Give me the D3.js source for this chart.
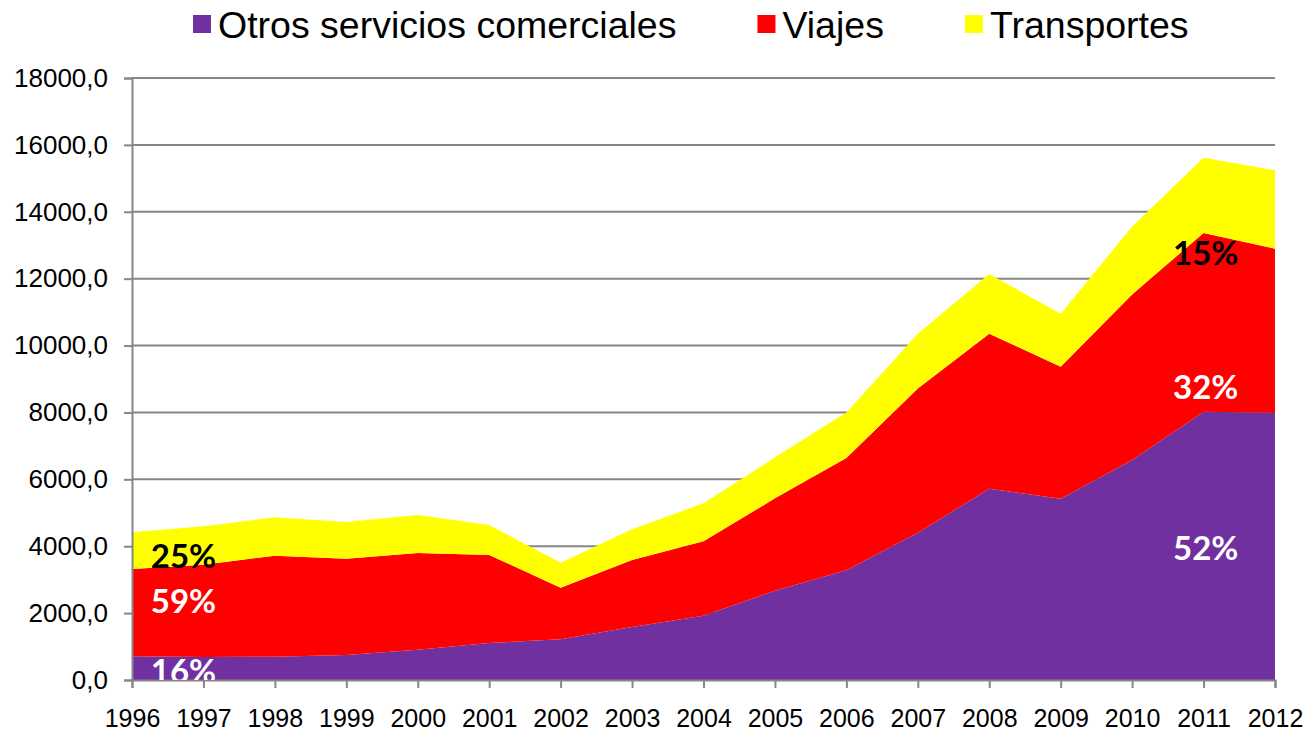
<!DOCTYPE html>
<html>
<head>
<meta charset="utf-8">
<script src="https://cdn.jsdelivr.net/npm/d3@7"></script>
<style>
  html, body { margin: 0; padding: 0; background: #fff; }
  svg { display: block; }
</style>
</head>
<body>
<svg id="chart" width="1308" height="734"></svg>
<script>
// ---------------------------------------------------------------------------
// Data
// ---------------------------------------------------------------------------
const years = [1996, 1997, 1998, 1999, 2000, 2001, 2002, 2003, 2004, 2005, 2006, 2007, 2008, 2009, 2010, 2011, 2012];

const otros       = [708, 690, 698, 747, 907, 1106, 1220, 1585, 1923, 2670, 3279, 4400, 5722, 5422, 6578, 8021, 7989];
const viajes      = [2610, 2758, 3019, 2880, 2890, 2631, 1540, 2002, 2223, 2761, 3358, 4317, 4631, 3947, 4951, 5348, 4909];
const transportes = [1097, 1146, 1147, 1096, 1136, 897, 748, 918, 1136, 1226, 1365, 1636, 1786, 1583, 2032, 2246, 2343];

const seriesNames  = ['Otros servicios comerciales', 'Viajes', 'Transportes'];
const seriesKeys   = ['otros', 'viajes', 'transportes'];
const seriesColors = ['#7030A0', '#FF0000', '#FFFF00'];

const yTicks = [0, 2000, 4000, 6000, 8000, 10000, 12000, 14000, 16000, 18000];

// ---------------------------------------------------------------------------
// Setup
// ---------------------------------------------------------------------------
const width = 1308, height = 734;
const margin = { top: 78, right: 33, bottom: 54, left: 132 };
const svg = d3.select('#chart');

const rows = years.map((y, i) => ({ year: y, otros: otros[i], viajes: viajes[i], transportes: transportes[i] }));
const stacked = d3.stack().keys(seriesKeys)(rows);

const x = d3.scaleLinear()
  .domain(d3.extent(years))
  .range([margin.left, width - margin.right]);

const y = d3.scaleLinear()
  .domain([0, 18000])
  .range([height - margin.bottom, margin.top]);

const fmt = d => d3.format('.1f')(d).replace('.', ',');

// clip for labels sitting at the bottom edge
svg.append('defs').append('clipPath').attr('id', 'plot-clip')
  .append('rect')
  .attr('x', margin.left).attr('y', margin.top)
  .attr('width', width - margin.left - margin.right)
  .attr('height', height - margin.top - margin.bottom);

// gridlines
svg.append('g')
  .selectAll('line')
  .data(yTicks.filter(d => d > 0))
  .join('line')
  .attr('x1', margin.left).attr('x2', width - margin.right)
  .attr('y1', d => y(d)).attr('y2', d => y(d))
  .attr('stroke', '#868686').attr('stroke-width', 2);

// areas
const area = d3.area()
  .x(d => x(d.data.year))
  .y0(d => y(d[0]))
  .y1(d => y(d[1]));

svg.append('g')
  .selectAll('path')
  .data(stacked)
  .join('path')
  .attr('d', area)
  .attr('fill', (d, i) => seriesColors[i]);

// ---------------------------------------------------------------------------
// Axes
// ---------------------------------------------------------------------------
const yAxis = svg.append('g')
  .attr('transform', `translate(${margin.left},0)`)
  .call(d3.axisLeft(y).tickValues(yTicks).tickFormat(fmt).tickSize(8).tickPadding(16));

const xAxis = svg.append('g')
  .attr('transform', `translate(0,${height - margin.bottom})`)
  .call(d3.axisBottom(x).tickValues(years).tickFormat(d3.format('d')).tickSize(8).tickPadding(21));

[yAxis, xAxis].forEach(ax => {
  ax.select('.domain').attr('stroke', '#868686').attr('stroke-width', 2);
  ax.selectAll('.tick line').attr('stroke', '#868686').attr('stroke-width', 2);
  ax.selectAll('.tick text')
    .attr('fill', '#000')
    .style('font-family', '"Liberation Sans", Arial, sans-serif');
});
yAxis.selectAll('.tick text').style('font-size', '26px');
xAxis.selectAll('.tick text').style('font-size', '25px');

// ---------------------------------------------------------------------------
// Percentage labels (share of total in first and last year)
// ---------------------------------------------------------------------------
const shareLabels = [
  { idx: 0, key: 'transportes', pos: [1996.72, 3740], color: '#000' },
  { idx: 0, key: 'viajes',      pos: [1996.72, 2390], color: '#fff' },
  { idx: 0, key: 'otros',       pos: [1996.72, 300],  color: '#fff' },
  { idx: 16, key: 'transportes', pos: [2011.03, 12810], color: '#000' },
  { idx: 16, key: 'viajes',      pos: [2011.03, 8790],  color: '#fff' },
  { idx: 16, key: 'otros',       pos: [2011.03, 3976],  color: '#fff' }
];

svg.append('g')
  .attr('clip-path', 'url(#plot-clip)')
  .selectAll('text')
  .data(shareLabels)
  .join('text')
  .attr('x', d => x(d.pos[0]))
  .attr('y', d => y(d.pos[1]))
  .attr('text-anchor', 'middle')
  .attr('dominant-baseline', 'central')
  .attr('fill', d => d.color)
  .style('font-family', 'Lato, "Open Sans", sans-serif')
  .style('font-weight', 'bold')
  .style('font-size', '33px')
  .text(d => {
    const r = rows[d.idx];
    const total = r.otros + r.viajes + r.transportes;
    return Math.round(r[d.key] / total * 100) + '%';
  });

// ---------------------------------------------------------------------------
// Legend
// ---------------------------------------------------------------------------
const legend = svg.append('g').attr('transform', 'translate(193,0)');
let lx = 0;
seriesNames.forEach((name, i) => {
  const g = legend.append('g').attr('transform', `translate(${lx},0)`);
  g.append('rect')
    .attr('x', 0).attr('y', 15)
    .attr('width', 18).attr('height', 18)
    .attr('fill', seriesColors[i]);
  const t = g.append('text')
    .attr('x', 25).attr('y', 38)
    .style('font-family', '"Liberation Sans", Arial, sans-serif')
    .style('font-size', '37.5px')
    .attr('fill', '#000')
    .text(name);
  lx += 25 + t.node().getComputedTextLength() + 81;
});
</script>
</body>
</html>
